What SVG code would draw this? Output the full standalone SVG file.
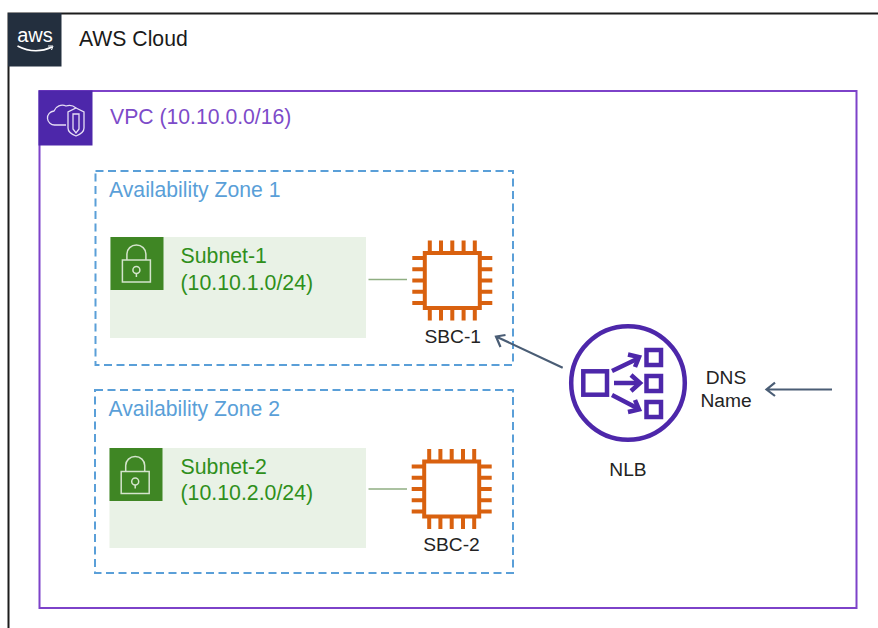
<svg xmlns="http://www.w3.org/2000/svg" width="878" height="628" viewBox="0 0 878 628">
<defs>
<style>
text{font-family:"Liberation Sans",Arial,sans-serif}
.t20{font-size:21.2px}
.lbl{font-size:19.2px;fill:#232323;text-anchor:middle}
.az{fill:none;stroke:#5a9fd8;stroke-width:2;stroke-dasharray:8 4.5}
.azt{font-size:21.2px;fill:#5a9fd8}
.sub{fill:#e9f2e6}
.subh{fill:#3f8624}
.subt{font-size:21.3px;fill:#2f8f1b}
.lock{fill:none;stroke:#d4e4cc;stroke-width:1.5}
.link{stroke:#8fae82;stroke-width:1.4;fill:none}
.chip{fill:none;stroke:#d9610f;stroke-width:4}
.conn{fill:none;stroke:#4a5d75;stroke-width:2.200}
.nlb{fill:none;stroke:#4d27aa;stroke-width:4.500}
.nlba{fill:none;stroke:#4d27aa;stroke-width:4.500}
.icon{fill:none;stroke:#e6def5;stroke-width:1.300}
</style>
<g id="lock">
<path class="lock" d="M-14 0H14V22H-14Z"/>
<path class="lock" d="M-9.500 0V-6A9.500 9 0 0 1 9.500 -6V0"/>
<circle class="lock" cx="0" cy="10" r="3.500"/>
<path class="lock" d="M0 13.500V17"/>
</g>
<g id="chip">
<rect class="chip" x="-27.500" y="-27.500" width="55" height="55"/>
<path class="chip" d="M-22.500 -27.500V-40M-11.300 -27.500V-40M0 -27.500V-40M11.300 -27.500V-40M22.500 -27.500V-40M-22.500 27.500V40M-11.300 27.500V40M0 27.500V40M11.300 27.500V40M22.500 27.500V40M-27.500 -22.500H-40M-27.500 -11.300H-40M-27.500 0H-40M-27.500 11.300H-40M-27.500 22.500H-40M27.500 -22.500H40M27.500 -11.300H40M27.500 0H40M27.500 11.300H40M27.500 22.500H40"/>
</g>
</defs>
<rect width="878" height="628" fill="#fff"/>
<g id="aws-cloud">
<path d="M878 13.500H8.500V628" fill="none" stroke="#1c1c1c" stroke-width="2"/>
<rect x="8" y="13" width="53.500" height="53.500" fill="#232f3e"/>
<text x="35" y="42" font-size="20" fill="#fff" text-anchor="middle">aws</text>
<path d="M17.500 46Q35 55 52 47" fill="none" stroke="#fff" stroke-width="1.600"/>
<path d="M48 46L53 46L51.500 50" fill="none" stroke="#fff" stroke-width="1"/>
<text class="t20" x="79" y="46" fill="#1a1a1a">AWS Cloud</text>
</g>
<g id="vpc">
<rect x="39.500" y="91" width="817" height="517" fill="none" stroke="#7d42c9" stroke-width="2"/>
<rect x="38.500" y="90.500" width="54" height="55" fill="#4d27aa"/>
<path class="icon" d="M66 125H55A7 7 0 0 1 54 111A9 9 0 0 1 66 106A10 10 0 0 1 76 108"/>
<path class="icon" d="M76 108L84 112V128Q84 133 76 136Q68 133 68 128V112Z"/>
<path class="icon" d="M73 114H79V129L76 133L73 129Z"/>
<text class="t20" x="110" y="124" fill="#7d4bc9">VPC (10.10.0.0/16)</text>
</g>
<g id="az1">
<rect class="az" x="95.500" y="171" width="417.500" height="194"/>
<text class="azt" x="109" y="197">Availability Zone 1</text>
</g>
<g id="az2">
<rect class="az" x="95" y="390" width="418" height="183"/>
<text class="azt" x="108.500" y="416">Availability Zone 2</text>
</g>
<g id="subnet-1">
<rect class="sub" x="110" y="237" width="256" height="101"/>
<rect class="subh" x="110.500" y="237" width="53" height="53"/>
<use href="#lock" x="136.400" y="260"/>
<text class="subt" x="180.500" y="263">Subnet-1</text>
<text class="subt" x="180.500" y="290">(10.10.1.0/24)</text>
</g>
<g id="subnet-2">
<rect class="sub" x="109.500" y="448" width="256.500" height="100"/>
<rect class="subh" x="109.500" y="448" width="53" height="53"/>
<use href="#lock" x="135.200" y="471.500"/>
<text class="subt" x="180.500" y="474">Subnet-2</text>
<text class="subt" x="180.500" y="500">(10.10.2.0/24)</text>
</g>
<g id="sbc-1">
<use href="#chip" x="452.300" y="280.500"/>
<text class="lbl" x="452.700" y="343.300">SBC-1</text>
</g>
<g id="sbc-2">
<use href="#chip" x="451.700" y="489"/>
<text class="lbl" x="451.500" y="551">SBC-2</text>
</g>
<g id="nlb">
<circle class="nlb" cx="628" cy="383" r="56.800"/>
<rect class="nlb" x="583.300" y="371.300" width="23.700" height="23.400"/>
<rect class="nlb" x="646.500" y="350" width="14.500" height="15"/>
<rect class="nlb" x="646.500" y="376" width="14.500" height="15"/>
<rect class="nlb" x="646.500" y="402" width="14.500" height="15"/>
<path class="nlba" d="M612 371L637 359M614 383H639M612 395L637 408"/>
<path class="nlba" d="M628 354.500L639 357L635 367M631 375L640 383L631 391M635 400L639 409.500L628 412"/>
<text class="lbl" x="628" y="475.500">NLB</text>
</g>
<g id="dns">
<text class="lbl" x="726" y="384">DNS</text>
<text class="lbl" x="726" y="407.300">Name</text>
</g>
<g id="connectors">
<path class="link" d="M368.500 279.500H407"/>
<path class="link" d="M368.500 489H407"/>
<path class="conn" d="M562.700 367.700L496 336.500M505.500 335L496 336.500L500.500 347"/>
<path class="conn" d="M832 389.500H767M775 382.700L766.500 389.500L775 396"/>
</g>
</svg>
